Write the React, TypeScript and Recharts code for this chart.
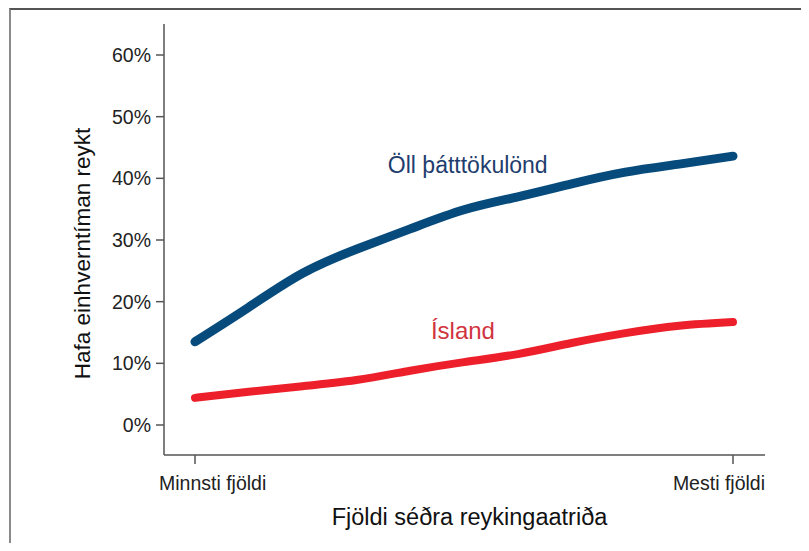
import React from "react";
import { LineChart, Line, XAxis, YAxis, ReferenceDot } from "recharts";

// position along the "number of smoking cues" scale (0 = fewest, 1 = most)
const steps = [0, 0.1, 0.2, 0.3, 0.4, 0.5, 0.6, 0.7, 0.8, 0.9, 1];
const allCountries = [13.5, 19.1, 24.6, 28.5, 31.8, 34.9, 37.0, 39.1, 41.0, 42.3, 43.6];
const iceland = [4.4, 5.4, 6.3, 7.3, 8.8, 10.2, 11.5, 13.3, 14.9, 16.1, 16.7];

const xTickLabels = ["Minnsti fjöldi", "Mesti fjöldi"];
const yTicks = [0, 10, 20, 30, 40, 50, 60];

const seriesNames = ["Öll þátttökulönd", "Ísland"];
const labelSpots = [
  { x: 0.507, y: 42.2 },
  { x: 0.498, y: 15.4 },
];

const BLUE = "#064b7c";
const RED = "#ec1f2a";
const FONT = "'Liberation Sans', Arial, sans-serif";

const data = steps.map((s, i) => ({
  step: s,
  all: allCountries[i],
  ice: iceland[i],
}));

function XTick(props: any) {
  const { x, y, index } = props;
  const first = index === 0;
  return (
    <text
      x={first ? x - 36 : x + 32}
      y={y + 17}
      textAnchor={first ? "start" : "end"}
      dominantBaseline="central"
      fontSize={19.5}
      fontFamily={FONT}
      fill="#222"
    >
      {xTickLabels[index]}
    </text>
  );
}

function YTitle(props: any) {
  const { viewBox } = props;
  const cx = viewBox.x + 22;
  const cy = viewBox.y + viewBox.height / 2 + 14;
  return (
    <text
      x={cx}
      y={cy}
      transform={`rotate(-90, ${cx}, ${cy})`}
      textAnchor="middle"
      dominantBaseline="central"
      fontSize={22.5}
      fontFamily={FONT}
      fill="#111"
    >
      Hafa einhverntíman reykt
    </text>
  );
}

function XTitle(props: any) {
  const { viewBox } = props;
  const cx = viewBox.x + viewBox.width / 2 + 5;
  return (
    <text
      x={cx}
      y={517}
      textAnchor="middle"
      dominantBaseline="central"
      fontSize={23.5}
      fontFamily={FONT}
      fill="#111"
    >
      Fjöldi séðra reykingaatriða
    </text>
  );
}

const seriesLabel = (text: string, color: string, size: number) => (p: any) => (
  <text
    x={p.cx}
    y={p.cy}
    textAnchor="middle"
    dominantBaseline="central"
    fontSize={size}
    fontFamily={FONT}
    fill={color}
  >
    {text}
  </text>
);

export default function App() {
  return (
    <div style={{ position: "relative", width: 793, height: 535 }}>
      <div
        style={{
          position: "absolute",
          left: -8,
          top: -8,
          width: 809,
          height: 551,
          overflow: "hidden",
          background: "#fff",
        }}
      >
        <div
          style={{
            position: "absolute",
            left: 9,
            top: 8,
            width: 820,
            height: 560,
            borderTop: "2px solid #555",
            borderLeft: "2px solid #8a8a8a",
          }}
        />
        <div style={{ position: "absolute", left: 0, top: 0 }}>
          <LineChart
            width={809}
            height={551}
            data={data}
            margin={{ top: 24, right: 44, bottom: 36, left: 60 }}
          >
            <XAxis
              dataKey="step"
              type="number"
              domain={[0, 1]}
              ticks={[0, 1]}
              padding={{ left: 31, right: 32 }}
              height={60}
              axisLine={{ stroke: "#555", strokeWidth: 1.5 }}
              tickLine={{ stroke: "#555", strokeWidth: 1.5 }}
              tickSize={9}
              tick={<XTick />}
              label={<XTitle />}
            />
            <YAxis
              type="number"
              domain={[0, 60]}
              ticks={yTicks}
              padding={{ top: 31, bottom: 30 }}
              width={104}
              axisLine={{ stroke: "#555", strokeWidth: 1.5 }}
              tickLine={{ stroke: "#555", strokeWidth: 1.5 }}
              tickSize={8}
              tickMargin={5}
              tickFormatter={(v: number) => `${v}%`}
              tick={{ fontSize: 19.5, fontFamily: FONT, fill: "#222" }}
              label={<YTitle />}
            />
            <Line
              dataKey="all"
              type="natural"
              stroke={BLUE}
              strokeWidth={9}
              strokeLinecap="round"
              dot={false}
              activeDot={false}
              isAnimationActive={false}
            />
            <Line
              dataKey="ice"
              type="natural"
              stroke={RED}
              strokeWidth={8}
              strokeLinecap="round"
              dot={false}
              activeDot={false}
              isAnimationActive={false}
            />
            <ReferenceDot
              x={labelSpots[0].x}
              y={labelSpots[0].y}
              r={0}
              ifOverflow="visible"
              shape={seriesLabel(seriesNames[0], "#1f3d6d", 23)}
            />
            <ReferenceDot
              x={labelSpots[1].x}
              y={labelSpots[1].y}
              r={0}
              ifOverflow="visible"
              shape={seriesLabel(seriesNames[1], "#d0343e", 24)}
            />
          </LineChart>
        </div>
      </div>
    </div>
  );
}
